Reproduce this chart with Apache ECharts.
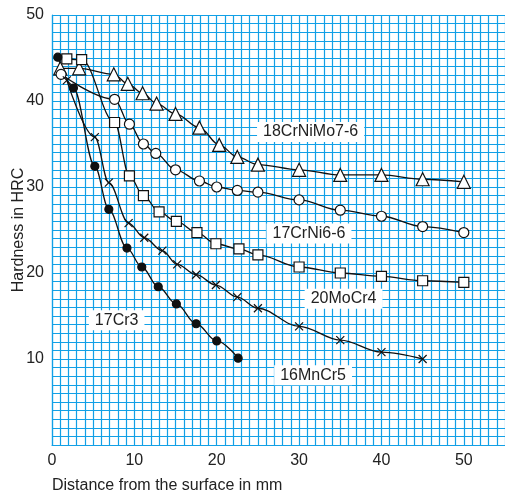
<!DOCTYPE html>
<html>
<head>
<meta charset="utf-8">
<script src="https://cdn.jsdelivr.net/npm/echarts@6/dist/echarts.min.js"></script>
<style>
  html, body { margin: 0; padding: 0; background: #fff; }
  #chart { width: 505px; height: 495px; }
</style>
</head>
<body>
<div id="chart"></div>
<script>
// 数据
var crNiMo_x = [1, 3.3, 7.5, 9.2, 11, 12.7, 15, 17.9, 20.3, 22.5, 25, 30, 35, 40, 45, 50];
var crNiMo_y = [43.8, 43.8, 43.1, 42, 40.9, 39.7, 38.5, 36.9, 34.9, 33.5, 32.6, 32.0, 31.4, 31.4, 30.9, 30.6];

var crNi_x = [1.1, 7.6, 9.4, 11.1, 12.6, 15, 17.9, 20, 22.5, 25, 30, 35, 40, 45, 50];
var crNi_y = [43.1, 40.2, 37.3, 35.0, 33.9, 32.0, 30.7, 30.0, 29.6, 29.4, 28.5, 27.3, 26.6, 25.4, 24.7];

var moCr_x = [1.8, 3.6, 7.6, 9.4, 11.1, 13, 15.1, 17.6, 19.9, 22.7, 25, 30, 35, 40, 45, 50];
var moCr_y = [44.9, 44.8, 37.5, 31.3, 29.0, 27.1, 26.0, 24.7, 23.4, 22.8, 22.1, 20.7, 20.0, 19.6, 19.1, 18.9];

var mnCr_x = [1.8, 5.2, 6.9, 9.3, 11.2, 13.4, 15.2, 17.5, 19.9, 22.5, 25, 30, 35, 40, 45];
var mnCr_y = [42.4, 35.8, 30.5, 25.8, 24.1, 22.6, 21.0, 19.8, 18.6, 17.2, 15.9, 13.8, 12.2, 10.8, 10.0];

var cr3_x = [0.7, 2.6, 5.2, 6.9, 9.1, 10.9, 12.9, 15.1, 17.5, 20, 22.6];
var cr3_y = [45.1, 41.5, 32.4, 27.4, 22.9, 20.7, 18.4, 16.4, 14.1, 12.1, 10.1];

// 标签
var labelNames = ['18CrNiMo7-6', '17CrNi6-6', '20MoCr4', '16MnCr5', '17Cr3'];
var labelAt = [[31.4, 36.4], [31.2, 24.6], [35.4, 17.0], [31.7, 8.1], [7.85, 14.5]];

function pairs(xs, ys) {
  return xs.map(function (v, i) { return [v, ys[i]]; });
}

var xMark = 'path://M0,0L10,10M10,0L0,10';

function makeSeries(name, xs, ys, symbol, size, fill) {
  return {
    name: name,
    type: 'line',
    smooth: 0.35,
    smoothMonotone: 'x',
    symbol: symbol,
    symbolSize: size,
    showAllSymbol: true,
    lineStyle: { color: '#111', width: 1.3 },
    itemStyle: { color: fill, borderColor: '#111', borderWidth: 1.2 },
    emphasis: { disabled: true },
    z: 3,
    data: pairs(xs, ys)
  };
}

var myChart = echarts.init(document.getElementById('chart'));
var gridColor = '#12a0e6';
var font = 'Liberation Sans, Arial, sans-serif';

var option = {
  animation: false,
  backgroundColor: '#fff',
  grid: { left: 52, right: 0, top: 15, bottom: 50, outerBoundsMode: 'none', containLabel: false },
  xAxis: {
    type: 'value',
    min: 0,
    max: 55,
    interval: 1,
    name: 'Distance from the surface in mm',
    nameLocation: 'start',
    nameGap: 0,
    nameTextStyle: {
      fontSize: 16, color: '#222', fontFamily: font,
      align: 'left', verticalAlign: 'top', padding: [33, 0, 0, 0]
    },
    axisLine: { show: true, lineStyle: { color: gridColor, width: 1.2 } },
    axisTick: { show: false },
    axisLabel: {
      color: '#222', fontSize: 16, fontFamily: font, margin: 8,
      showMaxLabel: false,
      formatter: function (v) { return v % 10 === 0 ? String(v) : ''; }
    },
    splitLine: { show: true, lineStyle: { color: gridColor, width: 1.2 } }
  },
  yAxis: {
    type: 'value',
    min: 0,
    max: 50,
    interval: 1,
    name: 'Hardness in HRC',
    nameLocation: 'middle',
    nameGap: 25,
    nameMoveOverlap: false,
    nameRotate: 90,
    nameTextStyle: { fontSize: 16, color: '#222', fontFamily: font },
    axisLine: { show: true, lineStyle: { color: gridColor, width: 1.2 } },
    axisTick: { show: false },
    axisLabel: {
      color: '#222', fontSize: 16, fontFamily: font, margin: 8,
      formatter: function (v) { return (v % 10 === 0 && v > 0) ? String(v) : ''; }
    },
    splitLine: { show: true, lineStyle: { color: gridColor, width: 1.2 } }
  },
  series: [
    makeSeries('18CrNiMo7-6', crNiMo_x, crNiMo_y, 'triangle', 13, '#fff'),
    makeSeries('17CrNi6-6', crNi_x, crNi_y, 'circle', 10, '#fff'),
    makeSeries('20MoCr4', moCr_x, moCr_y, 'rect', 10, '#fff'),
    makeSeries('16MnCr5', mnCr_x, mnCr_y, xMark, 8, '#fff'),
    makeSeries('17Cr3', cr3_x, cr3_y, 'circle', 8, '#111')
  ]
};

myChart.setOption(option);

// 曲线名称（白底文字）
var graphics = labelNames.map(function (t, i) {
  var p = myChart.convertToPixel({ gridIndex: 0 }, labelAt[i]);
  return {
    type: 'text',
    x: p[0],
    y: p[1],
    z: 10,
    style: {
      text: t,
      fill: '#222',
      font: '16px ' + font,
      align: 'center',
      verticalAlign: 'middle',
      backgroundColor: '#fff',
      padding: [2, 6, 2, 6]
    }
  };
});
myChart.setOption({ graphic: graphics });
</script>
</body>
</html>
